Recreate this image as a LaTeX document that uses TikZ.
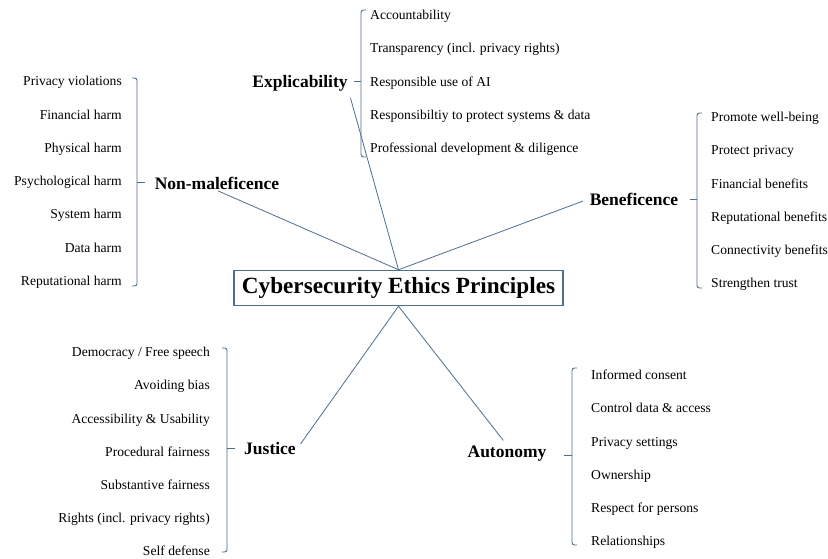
\documentclass[tikz,border=0pt]{standalone}
\usepackage{fontspec}
\setmainfont{Liberation Serif}
\definecolor{edge}{HTML}{4F6D8C}
\begin{document}
\begin{tikzpicture}[x=1pt,y=-1pt,
  item/.style={font=\fontsize{13.6}{16}\selectfont, inner sep=0pt, text height=9.5pt, text depth=3pt},
  head/.style={font=\fontsize{17.5}{20}\selectfont\bfseries, inner sep=1pt},
  link/.style={draw=edge, line width=0.8pt},
  brace/.style={draw=edge, line width=0.9pt, rounded corners=2.5pt}]
\useasboundingbox (0,0) rectangle (828,559);
% spine x, hook x, tick x, top, bottom, middle
\def\brak#1#2#3#4#5#6{
\draw[brace] (#2,#4) -- (#1,#4) -- (#1,#5) -- (#2,#5);
\draw[brace] (#1,#6) -- (#3,#6);
}
\node[draw=edge, line width=1.5pt, minimum width=329, minimum height=35,
  font=\fontsize{23.2}{26}\selectfont\bfseries] (cep) at (398.5,288) {Cybersecurity Ethics Principles};

\node[head] (expl) at (300,83) {Explicability};
\node[head] (nonm) at (217,183) {Non-maleficence};
\node[head] (bene) at (634,199) {Beneficence};
\node[head] (just) at (270,449) {Justice};
\node[head] (auto) at (507,454) {Autonomy};

\draw[link, shorten >=6pt] (cep.north) -- (expl.south east);
\draw[link, shorten >=1pt] (cep.north) -- (nonm.south);
\draw[link, shorten >=6pt] (cep.north) -- (bene.west);
\draw[link, shorten >=6pt] (cep.south) -- (just.east);
\draw[link, shorten >=6pt] (cep.south) -- (auto.north);

\brak{361}{366}{354}{10}{157}{81}
\brak{137}{132}{145}{78}{286}{182}
\brak{697}{702}{690}{113}{288}{199}
\brak{227}{222}{235}{348}{552}{448}
\brak{572}{577}{564}{368}{545}{455}

\foreach \t [count=\i] in {Accountability, Transparency (incl. privacy rights),
  Responsible use of AI, Responsibiltiy to protect systems \& data,
  Professional development \& diligence}
  \node[item, anchor=west] (ex\i) at (370,16.5+33.2*\i-33.2) {\t};
\foreach \t [count=\i] in {Privacy violations, Financial harm, Physical harm,
  Psychological harm, System harm, Data harm, Reputational harm}
  \node[item, anchor=east] (nm\i) at (122,82.5+33.3*\i-33.3) {\t};
\foreach \t [count=\i] in {Promote well-being, Protect privacy, Financial benefits,
  Reputational benefits, Connectivity benefits, Strengthen trust}
  \node[item, anchor=west] (bf\i) at (711,118.5+33.2*\i-33.2) {\t};
\foreach \t [count=\i] in {Democracy / Free speech, Avoiding bias,
  Accessibility \& Usability, Procedural fairness, Substantive fairness,
  Rights (incl. privacy rights), Self defense}
  \node[item, anchor=east] (js\i) at (210,353.5+33.2*\i-33.2) {\t};
\foreach \t [count=\i] in {Informed consent, Control data \& access, Privacy settings,
  Ownership, Respect for persons, Relationships}
  \node[item, anchor=west] (au\i) at (591,376.5+33.2*\i-33.2) {\t};
\end{tikzpicture}
\end{document}
